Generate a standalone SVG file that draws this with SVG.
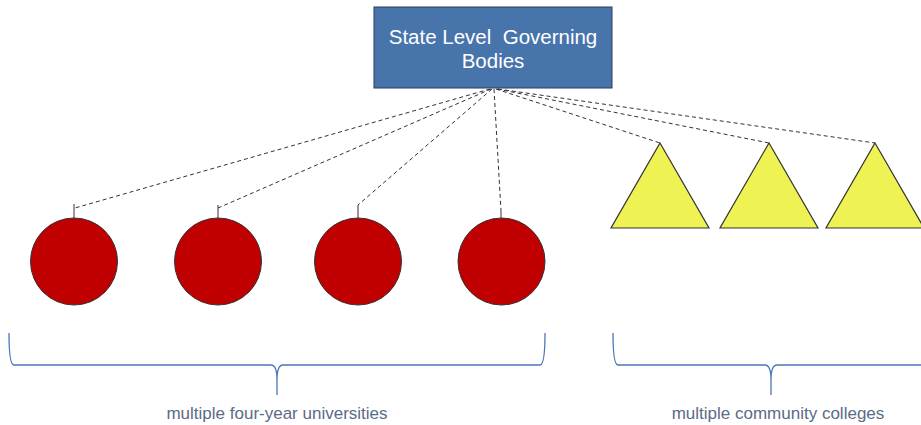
<svg xmlns="http://www.w3.org/2000/svg" width="921" height="425" viewBox="0 0 921 425">
<style>
.dash{stroke:#333;stroke-width:1;stroke-dasharray:4,3;fill:none}
.stub{stroke:#333;stroke-width:1;fill:none}
.uni{fill:#C00000;stroke:#333;stroke-width:1}
.cc{fill:#EFF253;stroke:#333;stroke-width:1.2}
.brace{stroke:#4A76B8;stroke-width:1.3;fill:none}
.lbl{font-family:"Liberation Sans",Arial,sans-serif;font-size:17px;fill:#5B6B86;text-anchor:middle}
.box{font-family:"Liberation Sans",Arial,sans-serif;font-size:20.5px;fill:#fff;text-anchor:middle;white-space:pre}
</style>
<rect width="921" height="425" fill="#fff"/>
<g id="connectors">
<path class="dash" d="M490,89 L75,208"/>
<path class="dash" d="M491,89 L218,208"/>
<path class="dash" d="M492,89 L358,205"/>
<path class="dash" d="M494,89 L501,211"/>
<path class="dash" d="M496,89 L660,143"/>
<path class="dash" d="M497,89 L769,143"/>
<path class="dash" d="M498,89 L875,143"/>
<path class="stub" d="M74,204 V218 M218,205 V218 M358,205 V218 M501,211 V218"/>
</g>
<g id="state">
<rect x="374" y="7" width="238" height="81" fill="#4874AC" stroke="#2a3b55" stroke-width="1"/>
<text class="box" x="493" y="44" xml:space="preserve">State Level  Governing</text>
<text class="box" x="493" y="68">Bodies</text>
</g>
<g id="uni1"><circle class="uni" cx="74" cy="261.5" r="43.5"/></g>
<g id="uni2"><circle class="uni" cx="218" cy="261.5" r="43.5"/></g>
<g id="uni3"><circle class="uni" cx="358" cy="261.5" r="43.5"/></g>
<g id="uni4"><circle class="uni" cx="501.5" cy="261.5" r="43.5"/></g>
<g id="cc1"><polygon class="cc" points="660,143 709,228 611,228"/></g>
<g id="cc2"><polygon class="cc" points="769,143 818,228 720,228"/></g>
<g id="cc3"><polygon class="cc" points="875,143 924,228 826,228"/></g>
<g id="brace-uni">
<path class="brace" d="M9,333 Q9,365 14,365 L271,365 Q277,365 277,380 L277,395 M277,380 Q277,365 283,365 L540,365 Q545,365 545,333"/>
<text class="lbl" x="277" y="419">multiple four-year universities</text>
</g>
<g id="brace-cc">
<path class="brace" d="M613,333 Q613,365 618,365 L765,365 Q771,365 771,380 L771,395 M771,380 Q771,365 777,365 L921,365"/>
<text class="lbl" x="778" y="419">multiple community colleges</text>
</g>
</svg>
